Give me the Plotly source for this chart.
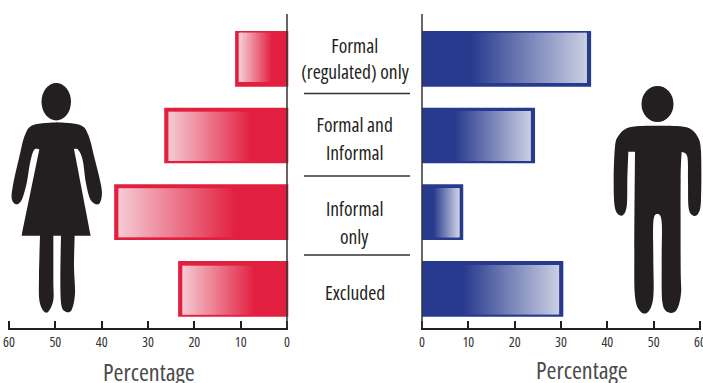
import plotly.graph_objects as go

W, H = 703, 383
categories = ["Formal (regulated) only", "Formal and Informal", "Informal only", "Excluded"]
women = [11.2, 26.5, 37.3, 23.5]
men = [36.5, 24.4, 8.9, 30.5]
tick_vals = [0, 10, 20, 30, 40, 50, 60]
label_lines = [("Formal", 45), ("(regulated) only", 71), ("Formal and", 125), ("Informal", 152),
               ("Informal", 208), ("only", 236), ("Excluded", 292)]
separators = [(304, 410, 93.5), (304, 410, 176), (304, 410, 255)]

RED, RED_L = (226, 31, 63), (245, 203, 212)
BLUE, BLUE_L = (40, 58, 142), (202, 207, 227)
INK = "#231F20"
FONT = "Open Sans, sans-serif"
PITCH = 76.67
STEPS = 40
SOLID = 0.29
BORDER = 0.9
LEFT_INSET = [(1.7, 4.7), (4, 2.3), (4, 2.7), (4.7, 2)]
RIGHT_INSET = [(1.7, 3.7), (3.3, 2.3), (3.7, 2.7), (4, 2.3)]
BAR_PX = 55.7
EDGE_PX = 1.3
UNIT_PX = 278 / 60
EDGE = EDGE_PX / UNIT_PX


def mix(a, b, t):
    return "rgb(%d,%d,%d)" % tuple(round(x + (y - x) * t) for x, y in zip(a, b))


def add_side(fig, vals, base, c0, c1, xa, ya, inset):
    fig.add_bar(y=categories, x=[v - base for v in vals], base=[base] * 4, orientation="h",
                width=BAR_PX / PITCH, marker=dict(color=mix(c0, c1, 0), line_width=0),
                xaxis=xa, yaxis=ya, cliponaxis=False, showlegend=False, hoverinfo="skip")
    heights = [(BAR_PX - a - b) / PITCH for a, b in inset]
    offsets = [(-BAR_PX / 2 + a) / PITCH for a, b in inset]
    for k in range(STEPS):
        t0, t1 = k / STEPS, (k + 1.4) / STEPS
        starts = [SOLID * v + (v - BORDER - SOLID * v) * t0 for v in vals]
        ends = [SOLID * v + (v - BORDER - SOLID * v) * min(t1, 1) for v in vals]
        fig.add_bar(y=categories, x=[e - s for s, e in zip(starts, ends)], base=starts, orientation="h",
                    width=heights, offset=offsets,
                    marker=dict(color=mix(c0, c1, (k + 0.5) / STEPS), line_width=0),
                    xaxis=xa, yaxis=ya, cliponaxis=False, showlegend=False, hoverinfo="skip")


fig = go.Figure()
add_side(fig, women, -0.45, RED, RED_L, "x", "y", LEFT_INSET)
add_side(fig, men, 0, BLUE, BLUE_L, "x2", "y2", RIGHT_INSET)

axis_x = dict(tickmode="array", tickvals=tick_vals, ticks="inside", ticklen=7, tickwidth=2, tickcolor=INK,
              showline=True, linecolor=INK, linewidth=1.6, showgrid=False, zeroline=False, automargin=False,
              ticklabeloverflow="allow",
              tickfont=dict(family=FONT, size=14, color="#333333"), ticklabelstandoff=0)
span_y = [(328 - 58.85) / PITCH, (14 - 58.85) / PITCH]
axis_y = dict(type="category", categoryorder="array", categoryarray=categories, range=span_y, automargin=False,
              showticklabels=False, ticks="", showgrid=False, zeroline=False, showline=False,
              domain=[1 - 328 / H, 1 - 14 / H])
fig.update_layout(
    width=W, height=H, margin=dict(l=0, r=0, t=0, b=0), paper_bgcolor="white", plot_bgcolor="rgba(0,0,0,0)",
    barmode="overlay", showlegend=False,
    xaxis=dict(axis_x, domain=[(9 - EDGE_PX) / W, (287 + EDGE_PX) / W], range=[60 + EDGE, -EDGE], anchor="y"),
    yaxis=dict(axis_y, anchor="x", side="right"),
    xaxis2=dict(axis_x, domain=[(422 - EDGE_PX) / W, (700 + EDGE_PX) / W], range=[-EDGE, 60 + EDGE], anchor="y2"),
    yaxis2=dict(axis_y, anchor="x2", side="left"),
)


def px(x):
    return x / W


def py(y):
    return 1 - y / H


notes = [dict(x=px(354.5), y=py(y), text=t, font=dict(family=FONT, size=19.5, color=INK))
         for t, y in label_lines]
notes += [dict(x=px(148.5), y=py(371.5), text="Percentage", font=dict(family=FONT, size=24, color="#4a4a4a")),
          dict(x=px(581.5), y=py(369), text="Percentage", font=dict(family=FONT, size=24, color="#4a4a4a"))]
for n in notes:
    n.update(xref="paper", yref="paper", showarrow=False, xanchor="center", yanchor="middle")
fig.update_layout(annotations=notes)


def smooth(runs, ox=0.0):
    """Silhouette outline, zoom-crop coordinates (3x) to paper; each run is a Catmull-Rom curve."""
    cmd = []
    for r_i, run in enumerate(runs):
        pts = [((ox + x / 3) / W, 1 - (y / 3) / H) for x, y in run]
        if r_i == 0:
            cmd.append("M%.5f,%.5f" % pts[0])
        else:
            cmd.append("L%.5f,%.5f" % pts[0])
        for i in range(len(pts) - 1):
            p0 = pts[max(i - 1, 0)]
            p1, p2 = pts[i], pts[i + 1]
            p3 = pts[min(i + 2, len(pts) - 1)]
            c1 = (p1[0] + (p2[0] - p0[0]) / 6, p1[1] + (p2[1] - p0[1]) / 6)
            c2 = (p2[0] - (p3[0] - p1[0]) / 6, p2[1] - (p3[1] - p1[1]) / 6)
            cmd.append("C%.5f,%.5f %.5f,%.5f %.5f,%.5f" % (*c1, *c2, *p2))
    return " ".join(cmd) + " Z"


woman = [
    [(172, 367), (240, 375), (265, 405), (285, 480), (303, 555), (305, 590), (295, 613), (272, 600), (258, 550),
     (248, 480), (235, 450), (222, 447)],
    [(222, 447), (272, 707)], [(272, 707), (224, 707)],
    [(224, 707), (222, 800), (225, 880), (215, 930), (197, 935), (184, 915), (181, 840), (183, 707)],
    [(183, 707), (160, 707)],
    [(160, 707), (160, 840), (160, 900), (145, 935), (130, 932), (118, 900), (117, 830), (120, 707)],
    [(120, 707), (65, 707)], [(65, 707), (118, 448)],
    [(118, 448), (102, 450), (90, 490), (80, 550), (65, 600), (48, 613), (35, 595), (40, 550), (58, 470), (75, 405),
     (100, 375), (172, 367)],
]
man = [
    [(773, 377), (830, 378), (868, 385), (893, 410), (903, 455), (903, 600), (895, 640), (880, 647), (866, 625),
     (864, 540), (862, 470), (845, 455)],
    [(845, 455), (842, 540), (842, 800), (843, 880), (830, 930), (805, 937), (787, 905), (785, 780),
     (785, 665), (772, 642), (760, 665), (760, 780), (760, 890), (745, 935), (722, 935), (705, 890), (703, 750),
     (705, 455)],
    [(705, 455), (685, 455)],
    [(685, 455), (682, 540), (680, 620), (665, 647), (645, 625), (641, 540), (645, 440), (655, 408), (680, 385),
     (720, 378), (773, 377)],
]
shapes = [
    dict(type="path", path=smooth(woman), xref="paper", yref="paper", fillcolor=INK, line_width=0),
    dict(type="path", path=smooth(man, 400), xref="paper", yref="paper", fillcolor=INK, line_width=0),
    dict(type="circle", xref="paper", yref="paper", x0=px(41.5), x1=px(71), y0=py(120.5), y1=py(83),
         fillcolor=INK, line_width=0),
    dict(type="circle", xref="paper", yref="paper", x0=px(641.5), x1=px(673.5), y0=py(122), y1=py(86),
         fillcolor=INK, line_width=0),
    dict(type="line", xref="x", yref="paper", x0=0, x1=0, y0=py(328), y1=py(14), line=dict(color="#333333", width=1.5)),
    dict(type="line", xref="x2", yref="paper", x0=0, x1=0, y0=py(328), y1=py(14), line=dict(color="#333333", width=1.5)),
]
shapes += [dict(type="line", xref="paper", yref="paper", x0=px(a), x1=px(b), y0=py(y), y1=py(y),
                line=dict(color="#333333", width=1.4)) for a, b, y in separators]
fig.update_layout(shapes=shapes)

fig.write_html("out.html", config={"displayModeBar": False},
               post_script="document.body.style.margin='0';document.body.style.overflow='hidden';"
                           "document.head.insertAdjacentHTML('beforeend','<style>svg text{font-stretch:75%}</style>');")
